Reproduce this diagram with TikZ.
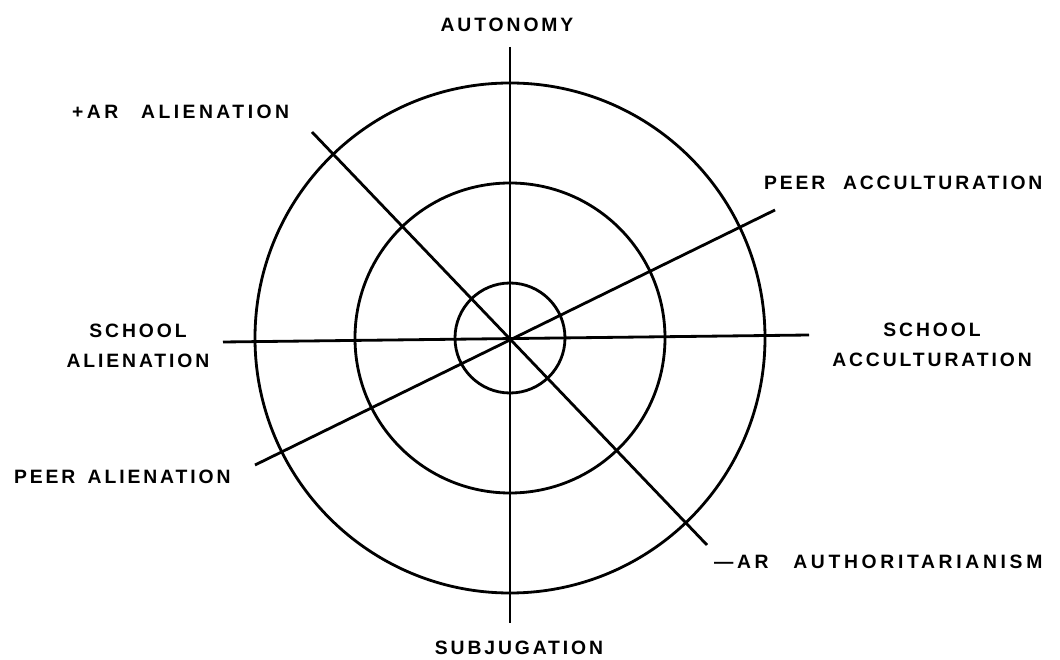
\documentclass[tikz,border=0pt]{standalone}
\usepackage{fontspec}
\newfontfamily\axisfont{Liberation Sans}[LetterSpace=15]
\begin{document}
\begin{tikzpicture}[
    ring/.style={draw, line width=1.6pt},
    axis/.style={line width=1.6pt},
    pole/.style={font=\axisfont\bfseries\fontsize{11}{17}\selectfont, inner sep=1pt},
]
    \useasboundingbox (-10.2,-6.44) rectangle (11.0,6.76);

    % Circles
    \draw[ring] (0,0) circle (5.1);
    \draw[ring] (0,0) circle (3.1);
    \draw[ring] (0,0) circle (1.1);

    % Axis ends
    \coordinate (autoend) at (0, 5.82);
    \coordinate (subjend) at (0, -5.7);
    \coordinate (salend) at (-5.74, -0.08);
    \coordinate (sacend) at (5.98, 0.06);
    \coordinate (aralend) at (-3.96, 4.12);
    \coordinate (arauend) at (3.94, -4.14);
    \coordinate (palend) at (-5.1, -2.54);
    \coordinate (pacend) at (5.3, 2.56);

    % Axes
    \draw[axis] (autoend) -- (subjend);
    \draw[axis] (salend) -- (sacend);
    \draw[axis] (aralend) -- (arauend);
    \draw[axis] (palend) -- (pacend);

    % Labels
    \node[pole] (auto) at (-0.06, 6.26) {AUTONOMY};
    \node[pole] (subj) at (0.18, -6.2) {SUBJUGATION};
    \node[pole, anchor=west] (aral) at (-8.8, 4.52) {\addfontfeature{LetterSpace=18}+AR\hspace{13pt}ALIENATION};
    \node[pole, anchor=west] (pac) at (5.04, 3.1) {PEER\hspace{10pt}ACCULTURATION};
    \node[pole, align=center] (sal) at (-7.44, -0.16) {SCHOOL\\ALIENATION};
    \node[pole, align=center] (sac) at (8.44, -0.14) {SCHOOL\\ACCULTURATION};
    \node[pole, anchor=west] (pal) at (-9.96, -2.78) {PEER\hspace{7pt}ALIENATION};
    \node[pole, anchor=west] (arau) at (4.04, -4.48) {\addfontfeature{LetterSpace=19}\textemdash AR\hspace{14pt}AUTHORITARIANISM};
\end{tikzpicture}
\end{document}
